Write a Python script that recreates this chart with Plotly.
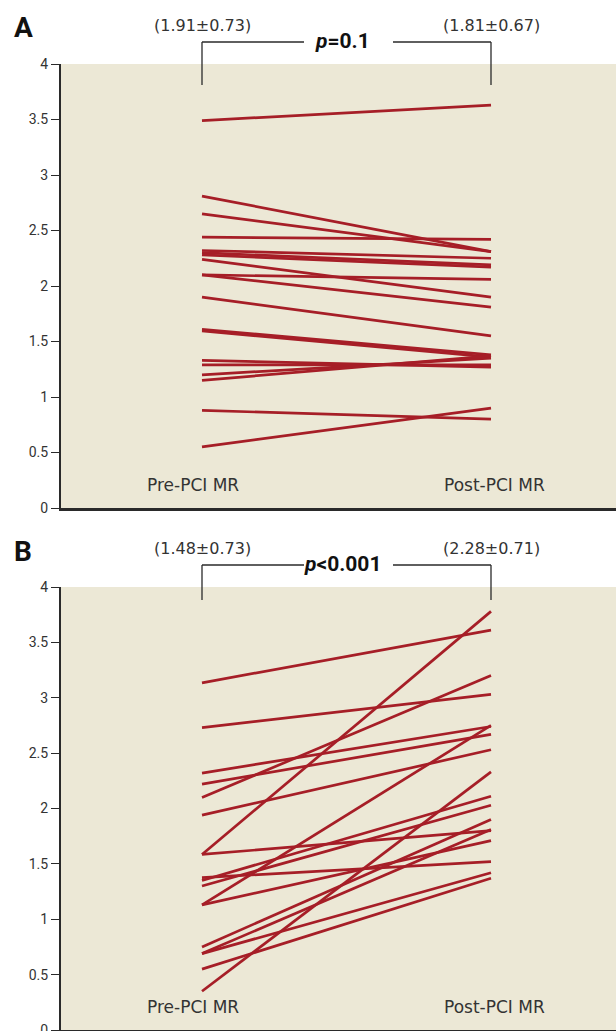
import plotly.graph_objects as go

# ---------------- data ----------------
categories = ["Pre-PCI MR", "Post-PCI MR"]

panelA_pre = [3.49, 2.81, 2.65, 2.44, 2.32, 2.30, 2.28, 2.24, 2.10, 2.10,
              1.90, 1.61, 1.595, 1.33, 1.29, 1.20, 1.15, 0.88, 0.55]
panelA_post = [3.63, 2.31, 2.31, 2.42, 2.25, 2.19, 2.17, 1.90, 2.06, 1.81,
               1.55, 1.38, 1.36, 1.27, 1.29, 1.35, 1.37, 0.80, 0.90]

panelB_pre = [3.135, 2.73, 2.32, 2.22, 2.10, 1.94, 1.585, 1.585, 1.375, 1.35,
              1.30, 1.13, 1.13, 0.75, 0.69, 0.69, 0.55, 0.35]
panelB_post = [3.61, 3.03, 2.74, 2.67, 3.20, 2.53, 3.78, 1.80, 1.52, 2.11,
               2.03, 2.75, 1.71, 1.90, 1.81, 1.42, 1.37, 2.33]

panel_letters = ["A", "B"]
mean_labels_pre = ["(1.91±0.73)", "(1.48±0.73)"]
mean_labels_post = ["(1.81±0.67)", "(2.28±0.71)"]
p_labels = ["<i>p</i>=0.1", "<i>p</i><0.001"]
y_ticks = [0, 0.5, 1, 1.5, 2, 2.5, 3, 3.5, 4]

# ---------------- style ----------------
W, H = 616, 1031
BG = "#ECE8D6"
RED = "#A61E27"
INK = "#2a2a2a"
BOLD = "Roboto, Liberation Sans, Arial, sans-serif"
TICKF = "Roboto, Liberation Sans, Arial, sans-serif"
REG = "DejaVu Sans, Verdana, sans-serif"

def px(v):  # pixel column -> paper fraction
    return v / W

def py(v):  # pixel row -> paper fraction
    return 1 - v / H

x_pos = [0, 1]
x_range = [-(202 - 61) / 289, 1 + (616 - 491) / 289]

domains = [[py(508), py(64)], [py(1030), py(587)]]
offsets = [0, 523]
bracket_bottoms = [85, 600]

fig = go.Figure()

panels = [(panelA_pre, panelA_post), (panelB_pre, panelB_post)]
for i, (pre, post) in enumerate(panels):
    xa = "x" if i == 0 else "x2"
    ya = "y" if i == 0 else "y2"
    for a, b in zip(pre, post):
        fig.add_trace(go.Scatter(
            x=x_pos, y=[a, b], mode="lines",
            line=dict(color=RED, width=2.7),
            xaxis=xa, yaxis=ya, showlegend=False, hoverinfo="skip"))

axis_common_y = dict(
    range=[0, 4], tickvals=y_ticks, ticks="outside", ticklen=8, tickwidth=1.2,
    tickcolor=INK, showline=True, linewidth=2, linecolor=INK,
    showgrid=False, zeroline=False, automargin=False, ticklabeloverflow="allow",
    tickfont=dict(family=TICKF, size=14, color="#333333"))
axis_common_x = dict(
    range=x_range, domain=[px(61), 1], showticklabels=False, ticks="",
    showline=True, linewidth=3, linecolor=INK, showgrid=False, zeroline=False,
    automargin=False)

fig.update_layout(
    template="none",
    width=W, height=H, autosize=False,
    margin=dict(l=0, r=0, t=0, b=0, pad=0),
    paper_bgcolor="white", plot_bgcolor=BG,
    showlegend=False,
    xaxis=dict(**axis_common_x, anchor="y"),
    yaxis=dict(**axis_common_y, domain=domains[0], anchor="x"),
    xaxis2=dict(**axis_common_x, anchor="y2"),
    yaxis2=dict(**axis_common_y, domain=domains[1], anchor="x2"),
)

annotations = []
shapes = []
for i in range(2):
    off = offsets[i]
    xr = "x" if i == 0 else "x2"
    yr = "y" if i == 0 else "y2"
    annotations.append(dict(text="<b>%s</b>" % panel_letters[i], xref="paper", yref="paper",
                            x=px(23), y=py(28 + off), showarrow=False,
                            xanchor="center", yanchor="middle",
                            font=dict(family=BOLD, size=28, color="#111111")))
    annotations.append(dict(text=mean_labels_pre[i], xref=xr, yref="paper",
                            x=0, y=py(25 + off), showarrow=False,
                            xanchor="center", yanchor="middle",
                            font=dict(family=REG, size=16, color="#333333")))
    annotations.append(dict(text=mean_labels_post[i], xref=xr, yref="paper",
                            x=1, y=py(25 + off), showarrow=False,
                            xanchor="center", yanchor="middle",
                            font=dict(family=REG, size=16, color="#333333")))
    annotations.append(dict(text="<b>%s</b>" % p_labels[i], xref=xr, yref="paper",
                            x=(342 - 202) / 289, y=py(41 + off), showarrow=False,
                            xanchor="center", yanchor="middle",
                            font=dict(family=BOLD, size=21, color="#111111")))
    annotations.append(dict(text=categories[0], xref=xr, yref=yr,
                            x=-0.03, y=0.21, showarrow=False,
                            xanchor="center", yanchor="middle",
                            font=dict(family=REG, size=17, color="#333333")))
    annotations.append(dict(text=categories[1], xref=xr, yref=yr,
                            x=1.013, y=0.21, showarrow=False,
                            xanchor="center", yanchor="middle",
                            font=dict(family=REG, size=17, color="#333333")))
    # bracket
    ytop = py(42 + off)
    ybot = py(bracket_bottoms[i])
    lw = dict(color=INK, width=1.3)
    shapes.append(dict(type="line", xref=xr, yref="paper", x0=0, x1=0, y0=ytop, y1=ybot, line=lw))
    shapes.append(dict(type="line", xref=xr, yref="paper", x0=1, x1=1, y0=ytop, y1=ybot, line=lw))
    shapes.append(dict(type="line", xref=xr, yref="paper", x0=0, x1=(304 - 202) / 289,
                       y0=ytop, y1=ytop, line=lw))
    shapes.append(dict(type="line", xref=xr, yref="paper", x0=(393 - 202) / 289, x1=1,
                       y0=ytop, y1=ytop, line=lw))

fig.update_layout(annotations=annotations, shapes=shapes)
fig.write_html("out.html",
               config={"displayModeBar": False},
               post_script="document.body.style.margin='0';document.body.style.overflow='hidden';")
